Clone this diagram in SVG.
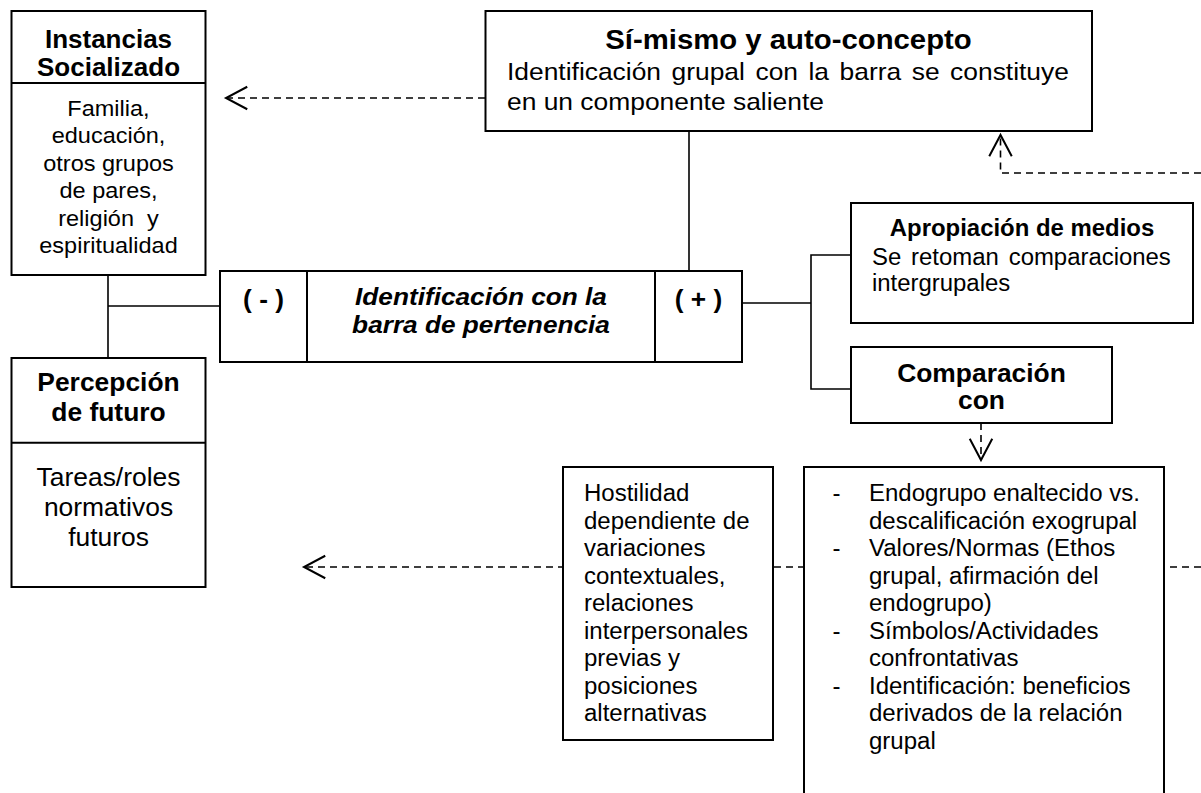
<svg xmlns="http://www.w3.org/2000/svg" width="1201" height="793" viewBox="0 0 1201 793">
<style>
.box{fill:#fff;stroke:#000;stroke-width:2}
.div{stroke:#000;stroke-width:2}
.ln{fill:none;stroke:#000;stroke-width:1.6}
.dash{fill:none;stroke:#000;stroke-width:1.6;stroke-dasharray:7 5}
text{font-family:"Liberation Sans",Arial,sans-serif;fill:#000}
.b{font-weight:bold}
.bi{font-weight:bold;font-style:italic}
.m{text-anchor:middle}
</style>
<defs>
<marker id="open" markerUnits="userSpaceOnUse" markerWidth="30" markerHeight="30" refX="0" refY="0" viewBox="-20 -12 24 24" orient="auto" overflow="visible">
<path d="M-17,-9 L0,0 L-17,9" fill="none" stroke="#000" stroke-width="1.6"/>
</marker>
</defs>
<rect width="1201" height="793" fill="#fff"/>
<g id="connectors">
<path class="ln" d="M689,131 V271"/>
<path class="ln" d="M108,275 V358 M108,306 H220"/>
<path class="ln" d="M742,303 H811 M851,255 H811 V389 H851"/>
<path class="dash" d="M485,98 H226" marker-end="url(#open)"/>
<path class="dash" d="M1201,173 H1000.5 V135" marker-end="url(#open)"/>
<path class="dash" d="M981,423 V460" marker-end="url(#open)"/>
<path class="dash" d="M1201,567 H304" marker-end="url(#open)"/>
</g>
<g id="instancias">
<rect class="box" x="11.5" y="11" width="194" height="264"/>
<line class="div" x1="11.5" y1="83" x2="205.5" y2="83"/>
<text class="b m" font-size="25" transform="translate(108.5,48) scale(1.04,1)"><tspan x="0" y="0">Instancias</tspan><tspan x="0" y="28">Socializado</tspan></text>
<text class="m" font-size="22.6" transform="translate(108.5,116) scale(1.04,1)"><tspan x="0" y="0">Familia,</tspan><tspan x="0" y="27.5">educación,</tspan><tspan x="0" y="55">otros grupos</tspan><tspan x="0" y="82.5">de pares,</tspan><tspan x="0" y="110">religión&#160; y</tspan><tspan x="0" y="137">espiritualidad</tspan></text>
</g>
<g id="percepcion">
<rect class="box" x="11.5" y="358" width="194" height="229"/>
<line class="div" x1="11.5" y1="442.7" x2="205.5" y2="442.7"/>
<text class="b m" font-size="25.4" transform="translate(108.5,391) scale(1.04,1)"><tspan x="0" y="0">Percepción</tspan><tspan x="0" y="30">de futuro</tspan></text>
<text class="m" font-size="25.4" transform="translate(108.5,486) scale(1.04,1)"><tspan x="0" y="0">Tareas/roles</tspan><tspan x="0" y="30">normativos</tspan><tspan x="0" y="60">futuros</tspan></text>
</g>
<g id="simismo">
<rect class="box" x="485.5" y="11" width="606.5" height="120"/>
<text class="b m" font-size="28.2" transform="translate(788.5,49) scale(1.04,1)">Sí-mismo y auto-concepto</text>
<text font-size="24" transform="translate(507,80) scale(1.1,1)"><tspan x="0" y="0" word-spacing="2.9">Identificación grupal con la barra se constituye</tspan><tspan x="0" y="30">en un componente saliente</tspan></text>
</g>
<g id="identificacion">
<rect class="box" x="220" y="271" width="522" height="91"/>
<line class="div" x1="307" y1="271" x2="307" y2="362"/>
<line class="div" x1="655" y1="271" x2="655" y2="362"/>
<text class="b m" font-size="25" transform="translate(263.5,308) scale(1.05,1)">( - )</text>
<text class="bi m" font-size="24.5" transform="translate(481,305) scale(1.07,1)"><tspan x="0" y="0">Identificación con la</tspan><tspan x="0" y="28">barra de pertenencia</tspan></text>
<text class="b m" font-size="25" transform="translate(698.5,308) scale(1.05,1)">( + )</text>
</g>
<g id="apropiacion">
<rect class="box" x="851" y="203" width="342" height="120"/>
<text class="b m" font-size="23" transform="translate(1022,236) scale(1.04,1)">Apropiación de medios</text>
<text font-size="23" transform="translate(872,265) scale(1.04,1)"><tspan x="0" y="0" word-spacing="3.1">Se retoman comparaciones</tspan><tspan x="0" y="26.5">intergrupales</tspan></text>
</g>
<g id="comparacion">
<rect class="box" x="851" y="347" width="261" height="76"/>
<text class="b m" font-size="25.4" transform="translate(981.5,382) scale(1.04,1)"><tspan x="0" y="0">Comparación</tspan><tspan x="0" y="27">con</tspan></text>
</g>
<g id="hostilidad">
<rect class="box" x="563" y="467" width="210" height="273"/>
<text font-size="23.1" transform="translate(584,501) scale(1.04,1)"><tspan x="0" y="0">Hostilidad</tspan><tspan x="0" y="27.55">dependiente de</tspan><tspan x="0" y="55.1">variaciones</tspan><tspan x="0" y="82.65">contextuales,</tspan><tspan x="0" y="110.2">relaciones</tspan><tspan x="0" y="137.75">interpersonales</tspan><tspan x="0" y="165.3">previas y</tspan><tspan x="0" y="192.85">posiciones</tspan><tspan x="0" y="220.4">alternativas</tspan></text>
</g>
<g id="componentes">
<rect class="box" x="804" y="467" width="360" height="340"/>
<text font-size="23.1" transform="translate(869,501) scale(1.04,1)"><tspan x="-35" y="0">-</tspan><tspan x="0" y="0">Endogrupo enaltecido vs.</tspan><tspan x="0" y="27.55">descalificación exogrupal</tspan><tspan x="-35" y="55.1">-</tspan><tspan x="0" y="55.1">Valores/Normas (Ethos</tspan><tspan x="0" y="82.65">grupal, afirmación del</tspan><tspan x="0" y="110.2">endogrupo)</tspan><tspan x="-35" y="137.75">-</tspan><tspan x="0" y="137.75">Símbolos/Actividades</tspan><tspan x="0" y="165.3">confrontativas</tspan><tspan x="-35" y="192.85">-</tspan><tspan x="0" y="192.85">Identificación: beneficios</tspan><tspan x="0" y="220.4">derivados de la relación</tspan><tspan x="0" y="247.95">grupal</tspan></text>
</g>
</svg>
